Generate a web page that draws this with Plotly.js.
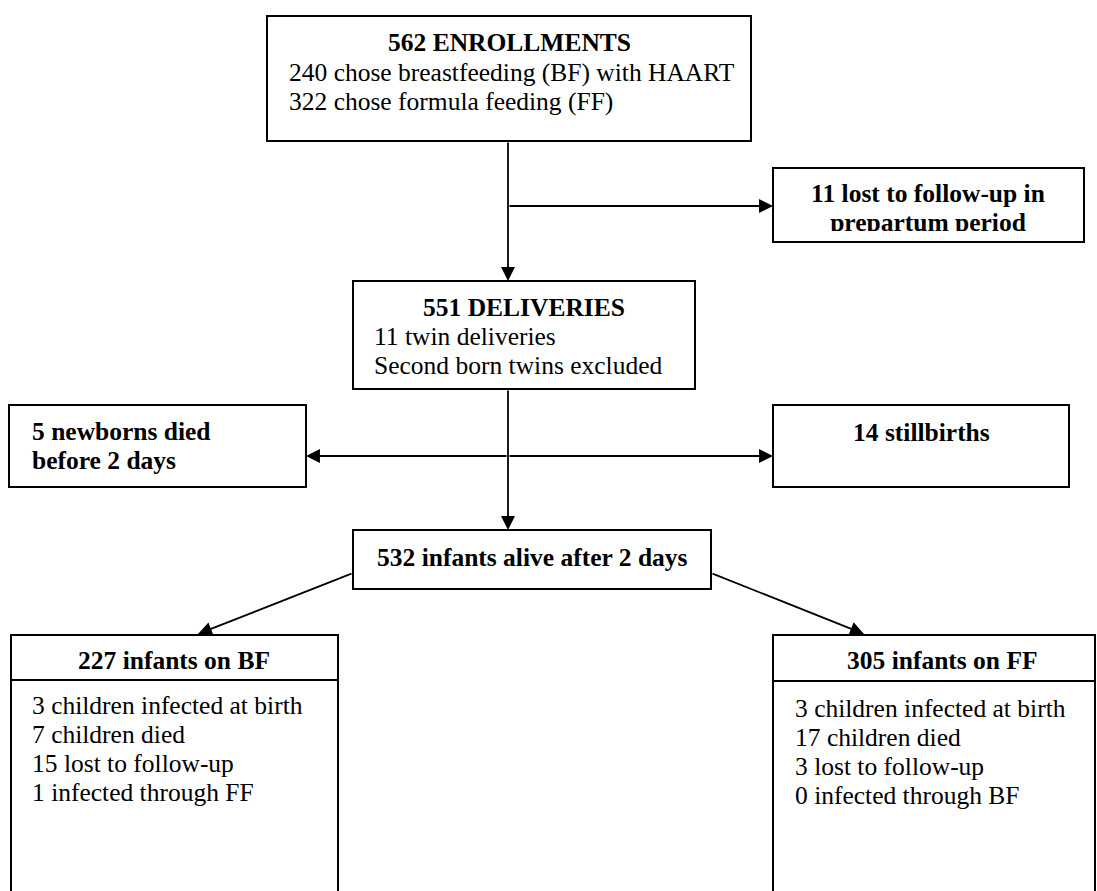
<!DOCTYPE html>
<html>
<head>
<meta charset="utf-8">
<script src="https://cdn.plot.ly/plotly-3.0.1.min.js"></script>
<style>html,body{margin:0;padding:0;background:#fff;}#chart{width:1097px;height:891px;}</style>
</head>
<body>
<div id="chart"></div>
<script>
// ---- flow chart content (texts and counts) ----
const enrollTitle = ["562 ENROLLMENTS"];
const enrollLines = ["240 chose breastfeeding (BF) with HAART", "322 chose formula feeding (FF)"];
const lostLines = ["11 lost to follow-up in", "prepartum period"];
const deliveryTitle = ["551 DELIVERIES"];
const deliveryLines = ["11 twin deliveries", "Second born twins excluded"];
const newbornLines = ["5 newborns died", "before 2 days"];
const stillLines = ["14 stillbirths"];
const aliveLines = ["532 infants alive after 2 days"];
const bfTitle = ["227 infants on BF"];
const bfLines = ["3 children infected at birth", "7 children died", "15 lost to follow-up", "1 infected through FF"];
const ffTitle = ["305 infants on FF"];
const ffLines = ["3 children infected at birth", "17 children died", "3 lost to follow-up", "0 infected through BF"];

// ---- layout geometry (pixels, y downward) ----
const FS = 25.5;
const FAM = "Liberation Serif, Times New Roman, serif";
const LH = 29;
const shapes = [];
const annotations = [];

function rect(x0, y0, x1, y1) {
  shapes.push({type: 'rect', xref: 'x', yref: 'y', x0, y0, x1, y1,
    line: {color: '#000', width: 2}, fillcolor: 'rgba(0,0,0,0)', layer: 'above'});
}
function hline(x0, x1, y) {
  shapes.push({type: 'line', xref: 'x', yref: 'y', x0, x1, y0: y, y1: y,
    line: {color: '#000', width: 2}, layer: 'above'});
}
function txt(s, x, baseline, anchor, bold) {
  annotations.push({text: bold ? '<b>' + s + '</b>' : s, x, y: baseline - 0.3 * FS,
    xref: 'x', yref: 'y', xanchor: anchor, yanchor: 'middle', showarrow: false,
    font: {family: FAM, size: FS, color: '#000'}});
}
function lines(arr, x, b0, anchor, bold) {
  arr.forEach((s, i) => txt(s, x, b0 + i * LH, anchor, bold));
}
function arrow(x0, y0, x1, y1) {
  annotations.push({x: x1, y: y1, ax: x0, ay: y0, xref: 'x', yref: 'y', axref: 'x', ayref: 'y',
    text: '', showarrow: true, arrowhead: 2, arrowsize: 1.55, arrowwidth: 1.8,
    arrowcolor: '#000', standoff: 0, startstandoff: 0});
}

// Enrollment box
rect(267, 16, 751, 141);
lines(enrollTitle, 509, 50, 'center', true);
lines(enrollLines, 287, 80, 'left', false);

// Lost prepartum box (text clipped at the bottom as in the original)
shapes.push({type: 'rect', xref: 'x', yref: 'y', x0: 775, x1: 1082, y0: 231, y1: 241,
  line: {width: 0}, fillcolor: '#fff', layer: 'above'});
rect(773, 168, 1084, 242);

// Deliveries
rect(353, 281, 695, 389);
lines(deliveryTitle, 524, 315, 'center', true);
lines(deliveryLines, 372, 344, 'left', false);

// Newborns died / stillbirths
rect(9, 405, 306, 487);
lines(newbornLines, 30, 439, 'left', true);
rect(773, 405, 1069, 487);
lines(stillLines, 921, 440, 'center', true);

// Alive
rect(353, 530, 711, 589);
lines(aliveLines, 532, 565, 'center', true);

// BF / FF boxes
rect(11, 635, 338, 910);
hline(11, 338, 680);
lines(bfTitle, 174, 668, 'center', true);
lines(bfLines, 30, 713, 'left', false);
rect(773, 635, 1095, 910);
hline(773, 1095, 681);
lines(ffTitle, 942, 668, 'center', true);
lines(ffLines, 793, 716, 'left', false);

// Connectors
arrow(508, 141, 508, 281);
arrow(508, 206, 773, 206);
arrow(508, 389, 508, 530);
arrow(508, 456, 306, 456);
arrow(508, 456, 773, 456);
arrow(353, 573, 198, 634);
arrow(711, 573, 864, 634);

// Clipped text of the lost box as a text trace (drawn below "above" shapes)
const lostTrace = {
  type: 'scatter', mode: 'text', x: [928, 928], y: [203 - 0.3 * FS, 232 - 0.3 * FS],
  text: lostLines.map(s => '<b>' + s + '</b>'), textposition: 'middle center',
  textfont: {family: FAM, size: FS, color: '#000'}, hoverinfo: 'skip', showlegend: false
};

const layout = {
  width: 1097, height: 891, margin: {l: 0, r: 0, t: 0, b: 0},
  paper_bgcolor: '#fff', plot_bgcolor: '#fff', showlegend: false,
  xaxis: {range: [0, 1097], visible: false, fixedrange: true},
  yaxis: {range: [891, 0], visible: false, fixedrange: true},
  shapes, annotations
};
Plotly.newPlot('chart', [lostTrace], layout, {staticPlot: true, displayModeBar: false});
</script>
</body>
</html>
